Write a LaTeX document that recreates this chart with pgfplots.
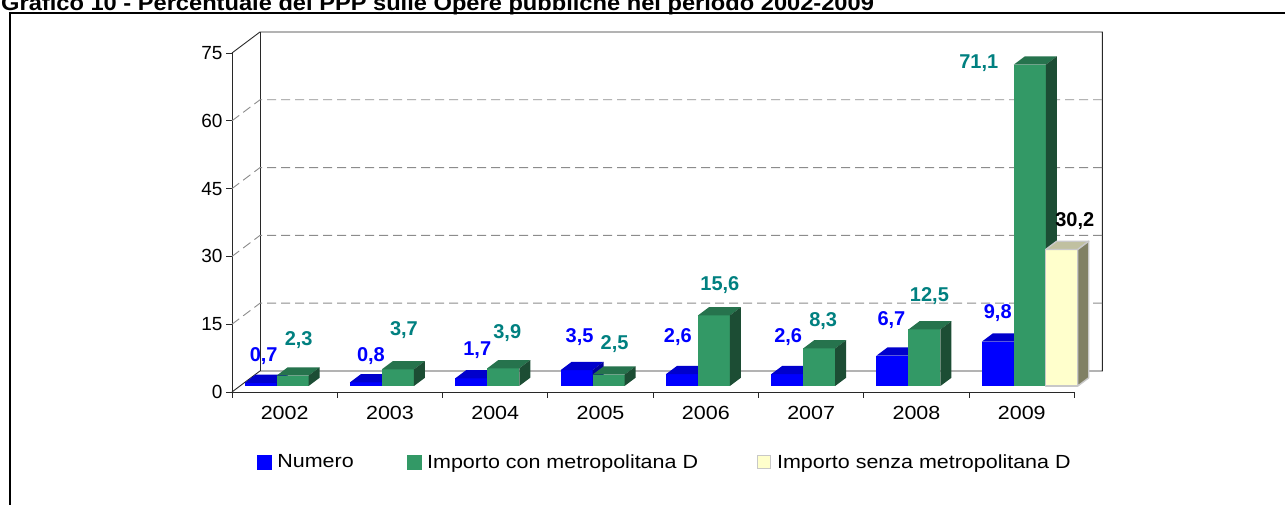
\documentclass[border=0pt]{standalone}
\usepackage{pgfplots}
\pgfplotsset{compat=1.18}
\usepackage{pgfplotstable}
\usepackage{fontspec}
\setmainfont{Liberation Sans}
\newfontfamily\wide{Liberation Sans}[FakeStretch=1.13]
\newfontfamily\titlefont{Liberation Sans}[FakeStretch=1.1]

\definecolor{cblue}{RGB}{0,0,255}
\definecolor{cbluetop}{RGB}{0,0,204}
\definecolor{cblueside}{RGB}{0,0,153}
\definecolor{cgreen}{RGB}{51,153,102}
\definecolor{cgreentop}{RGB}{38,115,77}
\definecolor{cgreenside}{RGB}{28,77,52}
\definecolor{cyel}{RGB}{255,255,204}
\definecolor{cyeltop}{RGB}{192,192,160}
\definecolor{cyelside}{RGB}{128,128,100}
\definecolor{cyelborder}{RGB}{200,200,200}
\definecolor{cteal}{RGB}{0,128,128}
\definecolor{cgrid}{RGB}{140,140,140}
\definecolor{caxis}{RGB}{40,40,40}

\pgfdeclareplotmark{emptymark}{}

% 3-D bars: front, top and side faces, built from the table values in axis units
% #1 table, #2 row list, #3 left offset of the front face from the category centre (pt),
% #4 front style, #5 top style, #6 side style
\newcommand\drawbars[6]{%
  \pgfplotsinvokeforeach{#2}{%
    \pgfplotstablegetelem{##1}{x}\of#1\edef\cx{\pgfplotsretval}%
    \pgfplotstablegetelem{##1}{v}\of#1\edef\cv{\pgfplotsretval}%
    \pgfmathsetmacro\xl{\cx+(#3)/105.3}%
    \pgfmathsetmacro\xr{\xl+32/105.3}%
    \pgfmathsetmacro\xlb{\xl+11/105.3}%
    \pgfmathsetmacro\xrb{\xr+11/105.3}%
    \pgfmathsetmacro\yo{6/4.52}%
    \pgfmathsetmacro\yt{\cv+6/4.52}%
    \pgfmathsetmacro\yob{\yo+8.25/4.52}%
    \pgfmathsetmacro\ytb{\yt+8.25/4.52}%
    \edef\tmp{\noexpand\addplot[forget plot, #4] coordinates {(\xl,\yo) (\xr,\yo) (\xr,\yt) (\xl,\yt)} -- cycle;}\tmp
    \edef\tmp{\noexpand\addplot[forget plot, #5] coordinates {(\xl,\yt) (\xr,\yt) (\xrb,\ytb) (\xlb,\ytb)} -- cycle;}\tmp
    \edef\tmp{\noexpand\addplot[forget plot, #6] coordinates {(\xr,\yo) (\xr,\yt) (\xrb,\ytb) (\xrb,\yob)} -- cycle;}\tmp
  }%
}

% x = category centre, v = value, lx/ly = label offset (pt)
\pgfplotstableread{
x   v    lx   ly
0.5 0.7  -21  33
1.5 0.8  -19  32
2.5 1.7  -18  34
3.5 3.5  -21  39
4.5 2.6  -28  43
5.5 2.6  -23  43
6.5 6.7  -25  42
7.5 9.8  -24  35
}\tblue
\pgfplotstableread{
x   v    lx   ly
0.5 2.3  14   42
1.5 3.7  14   45
2.5 3.9  12   41
3.5 2.5  14   37
4.5 15.6 14   36
5.5 8.3  12   33
6.5 12.5 13   39
7.5 71.1 -43  7
}\tgreen
\pgfplotstableread{
x   v    lx   ly
7.5 30.2 53   34
}\tyellow

\pgfplotsset{
  labelplot/.style 2 args={
    scatter, only marks, mark=emptymark,
    point meta=\thisrow{v},
    visualization depends on={\thisrow{lx} \as \labx},
    visualization depends on={\thisrow{ly} \as \laby},
    nodes near coords,
    every node near coord/.append style={anchor=center, xshift=\labx pt, yshift=\laby pt,
      font=\bfseries\fontsize{20}{20}\selectfont, text=#1, inner sep=0pt},
    legend image code/.code={#2},
    /pgf/number format/.cd, use comma, fixed, fixed zerofill, precision=1, assume math mode=true,
  },
}

\begin{document}
\begin{tikzpicture}
\useasboundingbox (0pt,0pt) rectangle (1285pt,505pt);
\clip (0pt,0pt) rectangle (1285pt,505pt);
\fill[white] (0pt,0pt) rectangle (1285pt,505pt);
\node[anchor=base west, font=\titlefont\bfseries\fontsize{21.5}{21.5}\selectfont, inner sep=0pt] at (1pt,494pt) {Grafico 10 - Percentuale del PPP sulle Opere pubbliche nel periodo 2002-2009};
\draw[line width=2pt] (10pt,-20pt) rectangle (1300pt,491.5pt);
\begin{axis}[
  at={(232pt,113pt)}, anchor=south west,
  x=105.3pt, y=4.52pt,
  xmin=0, xmax=8, ymin=0, ymax=75,
  clip=false,
  axis lines=left,
  axis line style={-, draw=caxis, line width=0.9pt},
  tick align=outside,
  major tick length=6pt,
  ytick={0,15,30,45,60,75},
  xtick={0,1,2,3,4,5,6,7,8},
  xticklabels={},
  extra x ticks={0.5,1.5,2.5,3.5,4.5,5.5,6.5,7.5},
  extra x tick labels={2002,2003,2004,2005,2006,2007,2008,2009},
  extra x tick style={major tick length=0pt},
  tick style={draw=caxis, line width=0.9pt},
  yticklabel style={font=\fontsize{19}{19}\selectfont, text=black},
  xticklabel style={font=\wide\fontsize{19}{19}\selectfont, text=black, yshift=-11pt},
  /pgf/number format/assume math mode=true,
  legend columns=3,
  legend cell align=left,
  legend style={
    at={(0.0297,-0.2065)}, anchor=west,
    draw=none, fill=none, inner sep=0pt, outer sep=0pt,
    font=\wide\fontsize{19}{19}\selectfont,
    nodes={inner sep=0pt},
    /tikz/every odd column/.append style={column sep=6pt},
    /tikz/column 2/.style={column sep=53pt},
    /tikz/column 4/.style={column sep=59pt},
  },
]
% back wall, floor and side wall
\draw[caxis, line width=0.9pt] (axis cs:0,0) -- ([shift={(28pt,21pt)}]axis cs:0,0) -- ([shift={(28pt,21pt)}]axis cs:8,0) -- ([shift={(28pt,21pt)}]axis cs:8,75) -- ([shift={(28pt,21pt)}]axis cs:0,75) -- (axis cs:0,75);
\draw[caxis, line width=0.9pt] ([shift={(28pt,21pt)}]axis cs:0,0) -- ([shift={(28pt,21pt)}]axis cs:0,75);
\pgfplotsinvokeforeach{15,30,45,60}{
  \draw[cgrid, line width=0.9pt, dash pattern=on 9pt off 5pt] (axis cs:0,#1) -- ([shift={(28pt,21pt)}]axis cs:0,#1) -- ([shift={(28pt,21pt)}]axis cs:8,#1);
}

% bars
\drawbars{\tblue}{0,...,7}{-40}{fill=cblue, draw=none}{fill=cbluetop, draw=none}{fill=cblueside, draw=none}
\drawbars{\tgreen}{0,...,7}{-8}{fill=cgreen, draw=none}{fill=cgreentop, draw=none}{fill=cgreenside, draw=none}
\drawbars{\tyellow}{0}{24}{fill=cyel, draw=cyelborder, line width=1.4pt, line join=round}{fill=cyeltop, draw=cyelborder, line width=1.4pt, line join=round}{fill=cyelside, draw=cyelborder, line width=1.4pt, line join=round}

% data labels and legend entries
\addplot[labelplot={cblue}{\fill[cblue] (0pt,-7pt) rectangle (14pt,7pt);}] table[x=x,y=v] {\tblue};
\addlegendentry{Numero}
\addplot[labelplot={cteal}{\fill[cgreen] (0pt,-7pt) rectangle (14pt,7pt);}] table[x=x,y=v] {\tgreen};
\addlegendentry{Importo con metropolitana D}
\addplot[labelplot={black}{\draw[cyelborder, fill=cyel, line width=1.2pt] (0.6pt,-6.4pt) rectangle (13.4pt,6.4pt);}] table[x=x,y=v] {\tyellow};
\addlegendentry{Importo senza metropolitana D}
\end{axis}
\end{tikzpicture}
\end{document}
